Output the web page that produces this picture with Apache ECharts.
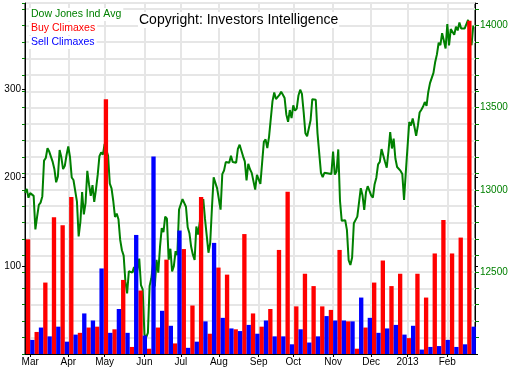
<!DOCTYPE html>
<html><head><meta charset="utf-8">
<script src="https://cdn.jsdelivr.net/npm/echarts@6/dist/echarts.min.js"></script>
<style>html,body{margin:0;padding:0;background:#fff}#c{width:516px;height:371px}</style>
</head><body><div id="c"></div>
<script>
// ---- data ----
const dowDates = [
'2012-02-27','2012-02-28','2012-02-29',
'2012-03-01','2012-03-02','2012-03-05','2012-03-06','2012-03-07','2012-03-08','2012-03-09','2012-03-12','2012-03-13','2012-03-14','2012-03-15','2012-03-16','2012-03-19','2012-03-20','2012-03-21','2012-03-22','2012-03-23','2012-03-26','2012-03-27','2012-03-28','2012-03-29','2012-03-30',
'2012-04-02','2012-04-03','2012-04-04','2012-04-05','2012-04-09','2012-04-10','2012-04-11','2012-04-12','2012-04-13','2012-04-16','2012-04-17','2012-04-18','2012-04-19','2012-04-20','2012-04-23','2012-04-24','2012-04-25','2012-04-26','2012-04-27','2012-04-30',
'2012-05-01','2012-05-02','2012-05-03','2012-05-04','2012-05-07','2012-05-08','2012-05-09','2012-05-10','2012-05-11','2012-05-14','2012-05-15','2012-05-16','2012-05-17','2012-05-18','2012-05-21','2012-05-22','2012-05-23','2012-05-24','2012-05-25','2012-05-29','2012-05-30','2012-05-31',
'2012-06-01','2012-06-04','2012-06-05','2012-06-06','2012-06-07','2012-06-08','2012-06-11','2012-06-12','2012-06-13','2012-06-14','2012-06-15','2012-06-18','2012-06-19','2012-06-20','2012-06-21','2012-06-22','2012-06-25','2012-06-26','2012-06-27','2012-06-28','2012-06-29',
'2012-07-02','2012-07-03','2012-07-05','2012-07-06','2012-07-09','2012-07-10','2012-07-11','2012-07-12','2012-07-13','2012-07-16','2012-07-17','2012-07-18','2012-07-19','2012-07-20','2012-07-23','2012-07-24','2012-07-25','2012-07-26','2012-07-27','2012-07-30','2012-07-31',
'2012-08-01','2012-08-02','2012-08-03','2012-08-06','2012-08-07','2012-08-08','2012-08-09','2012-08-10','2012-08-13','2012-08-14','2012-08-15','2012-08-16','2012-08-17','2012-08-20','2012-08-21','2012-08-22','2012-08-23','2012-08-24','2012-08-27','2012-08-28','2012-08-29','2012-08-30','2012-08-31',
'2012-09-04','2012-09-05','2012-09-06','2012-09-07','2012-09-10','2012-09-11','2012-09-12','2012-09-13','2012-09-14','2012-09-17','2012-09-18','2012-09-19','2012-09-20','2012-09-21','2012-09-24','2012-09-25','2012-09-26','2012-09-27','2012-09-28',
'2012-10-01','2012-10-02','2012-10-03','2012-10-04','2012-10-05','2012-10-08','2012-10-09','2012-10-10','2012-10-11','2012-10-12','2012-10-15','2012-10-16','2012-10-17','2012-10-18','2012-10-19','2012-10-22','2012-10-23','2012-10-24','2012-10-25','2012-10-26','2012-10-31',
'2012-11-01','2012-11-02','2012-11-05','2012-11-06','2012-11-07','2012-11-08','2012-11-09','2012-11-12','2012-11-13','2012-11-14','2012-11-15','2012-11-16','2012-11-19','2012-11-20','2012-11-21','2012-11-23','2012-11-26','2012-11-27','2012-11-28','2012-11-29','2012-11-30',
'2012-12-03','2012-12-04','2012-12-05','2012-12-06','2012-12-07','2012-12-10','2012-12-11','2012-12-12','2012-12-13','2012-12-14','2012-12-17','2012-12-18','2012-12-19','2012-12-20','2012-12-21','2012-12-24','2012-12-26','2012-12-27','2012-12-28','2012-12-31',
'2013-01-02','2013-01-03','2013-01-04','2013-01-07','2013-01-08','2013-01-09','2013-01-10','2013-01-11','2013-01-14','2013-01-15','2013-01-16','2013-01-17','2013-01-18','2013-01-22','2013-01-23','2013-01-24','2013-01-25','2013-01-28','2013-01-29','2013-01-30','2013-01-31',
'2013-02-01','2013-02-04','2013-02-05','2013-02-06','2013-02-07','2013-02-08','2013-02-11','2013-02-12','2013-02-13','2013-02-14','2013-02-15','2013-02-19','2013-02-20','2013-02-21','2013-02-22'
];
const dowClose = [
12981,13005,12952,
12980,12978,12963,12759,12837,12908,12922,12960,13178,13194,13253,13233,13239,13170,13125,13046,13081,13242,13198,13126,13146,13212,
13264,13200,13075,13060,12930,12716,12805,12987,12850,12921,13116,13033,12964,13029,12927,13002,13091,13205,13228,13214,
13279,13269,13207,13038,13009,12932,12835,12855,12821,12695,12632,12599,12442,12369,12504,12503,12496,12530,12455,12581,12420,12393,
12119,12101,12128,12415,12461,12554,12411,12574,12496,12652,12767,12742,12837,12824,12574,12641,12503,12535,12627,12602,12880,
12871,12943,12897,12772,12736,12653,12605,12573,12777,12727,12806,12909,12943,12823,12721,12617,12676,12888,13076,13073,13009,
13008,12879,13096,13118,13169,13176,13165,13208,13169,13172,13165,13250,13275,13272,13204,13173,13057,13158,13125,13103,13107,13001,13091,
13036,13047,13292,13307,13254,13323,13333,13540,13593,13553,13565,13578,13597,13579,13559,13458,13414,13486,13437,
13515,13482,13495,13575,13610,13584,13474,13345,13326,13329,13424,13552,13557,13549,13344,13346,13103,13077,13104,13107,13096,
13233,13093,13112,13246,12933,12811,12815,12815,12756,12571,12542,12588,12796,12789,12837,13010,12967,12878,12985,13022,13026,
12966,12952,13034,13074,13155,13170,13248,13245,13171,13135,13235,13351,13252,13312,13191,13139,13115,13096,12938,13104,
13413,13391,13435,13384,13329,13391,13471,13488,13507,13535,13511,13596,13650,13712,13779,13825,13896,13882,13954,13910,13861,
14010,13880,13979,13987,13944,13993,13971,14019,13983,13973,13982,14036,13928,13881,14001
];
const weekDates = [
'2012-03-01','2012-03-08','2012-03-15','2012-03-22','2012-03-29','2012-04-05','2012-04-12','2012-04-19','2012-04-26',
'2012-05-03','2012-05-10','2012-05-17','2012-05-24','2012-05-31','2012-06-07','2012-06-14','2012-06-21','2012-06-28',
'2012-07-05','2012-07-12','2012-07-19','2012-07-26','2012-08-02','2012-08-09','2012-08-16','2012-08-23','2012-08-30',
'2012-09-06','2012-09-13','2012-09-20','2012-09-27','2012-10-04','2012-10-11','2012-10-18','2012-10-25',
'2012-11-01','2012-11-08','2012-11-15','2012-11-22','2012-11-29','2012-12-06','2012-12-13','2012-12-20','2012-12-27',
'2013-01-03','2013-01-10','2013-01-17','2013-01-24','2013-01-31','2013-02-07','2013-02-14','2013-02-21'
];
const buyClimaxes = [130,25,81,155,146,178,24,30,31,289,28,84,8,72,6,30,107,12,119,55,178,23,98,90,28,136,46,
31,51,118,184,54,91,77,54,50,118,37,6,30,81,106,77,91,18,91,64,114,152,114,132,378];
const sellClimaxes = [16,30,20,31,14,22,46,38,97,24,51,24,135,21,224,49,32,140,7,14,37,126,41,29,26,33,23,
38,20,20,11,28,13,20,43,38,38,37,64,41,24,29,33,22,32,5,8,9,16,8,11,31];
const monthTickDates = ['2012-03-01','2012-04-02','2012-05-01','2012-06-01','2012-07-02','2012-08-01','2012-09-03','2012-10-01','2012-11-01','2012-12-03','2013-01-01','2013-02-01'];
const monthTickLabels = ['Mar','Apr','May','Jun','Jul','Aug','Sep','Oct','Nov','Dec','2013','Feb'];
const axisStartDate = '2012-02-27', axisEndDate = '2013-02-25';
const titleText = 'Copyright: Investors Intelligence';
const legendItems = ['Dow Jones Ind Avg','Buy Climaxes','Sell Climaxes'];

// business-day (weekday) index: weekends skipped, like the reference's time scale
function bd(s){
  const p = s.split('-').map(Number);
  const D = Math.round((Date.UTC(p[0],p[1]-1,p[2]) - Date.UTC(2012,1,27)) / 864e5);
  return Math.floor(D/7)*5 + Math.min(D%7,5);
}

const FONT = '"Liberation Sans", Arial, sans-serif';
const GREEN = '#008000', GRID = '#e6e6e6';
const monthTicks = monthTickDates.map(bd);
const monthMap = {};
monthTicks.forEach((v,i) => monthMap[v] = monthTickLabels[i]);

const chart = echarts.init(document.getElementById('c'), null, {renderer:'canvas'});
chart.setOption({
  animation:false,
  backgroundColor:'#fff',
  grid:{left:25, right:41, top:3, bottom:17, show:true, borderColor:'#000', borderWidth:1, backgroundColor:'#fff'},
  xAxis:{
    type:'value', min:bd(axisStartDate), max:bd(axisEndDate),
    axisLine:{show:true, onZero:false, lineStyle:{color:'#000', width:1}},
    axisTick:{show:true, customValues:monthTicks, length:3, lineStyle:{color:'#000'}},
    axisLabel:{customValues:monthTicks, formatter:v => monthMap[v] || '', color:'#000', fontSize:10, fontFamily:FONT, margin:3},
    splitLine:{show:true, lineStyle:{color:GRID, width:2}}
  },
  yAxis:[
    {type:'value', position:'left', min:0, max:398, interval:100,
     axisLine:{show:true, lineStyle:{color:'#000'}}, axisTick:{show:true, length:3, lineStyle:{color:'#000'}},
     axisLabel:{color:'#000', fontSize:10, fontFamily:FONT, margin:4, showMinLabel:false, showMaxLabel:false},
     splitLine:{show:false}},
    {type:'value', position:'right', min:12000, max:14138, interval:100,
     axisLine:{show:true, lineStyle:{color:'#000'}}, axisTick:{show:true, length:4, lineStyle:{color:GREEN}},
     axisLabel:{color:GREEN, fontSize:10, fontFamily:FONT, margin:5, showMinLabel:false, showMaxLabel:false,
       formatter:v => (v % 500 === 0 ? String(v) : '')},
     splitLine:{show:true, lineStyle:{color:GRID, width:2}}},
    {type:'value', position:'left', min:12000, max:14138, interval:100,
     axisLine:{show:false}, axisTick:{show:true, length:3, lineStyle:{color:GREEN}}, axisLabel:{show:false}, splitLine:{show:false}},
    {type:'value', position:'right', min:0, max:398, interval:100,
     axisLine:{show:false}, axisTick:{show:true, length:3, lineStyle:{color:'#000'}}, axisLabel:{show:false}, splitLine:{show:false}}
  ],
  series:[
    {type:'line', name:legendItems[0], yAxisIndex:1, symbol:'none', z:2,
     lineStyle:{color:GREEN, width:2}, data:dowDates.map((d,i) => [bd(d), dowClose[i]])},
    {type:'bar', name:legendItems[1], yAxisIndex:0, z:3, barGap:'0%', barCategoryGap:'0%',
     itemStyle:{color:'#ff0000'}, data:weekDates.map((d,i) => [bd(d), buyClimaxes[i]])},
    {type:'bar', name:legendItems[2], yAxisIndex:0, z:3, barGap:'0%', barCategoryGap:'0%',
     itemStyle:{color:'#0000ff'}, data:weekDates.map((d,i) => [bd(d), sellClimaxes[i]])}
  ],
  graphic:[
    {type:'text', x:138, y:20, z:100, style:{text:titleText, fill:'#000', font:'14px ' + FONT, verticalAlign:'middle', backgroundColor:'#fff', padding:[1,1]}},
    {type:'text', x:29, y:14.5, z:100, style:{text:legendItems[0], fill:GREEN, font:'10.5px ' + FONT, verticalAlign:'middle', backgroundColor:'#fff', padding:[1,2]}},
    {type:'text', x:29, y:28.5, z:100, style:{text:legendItems[1], fill:'#ff0000', font:'10.5px ' + FONT, verticalAlign:'middle', backgroundColor:'#fff', padding:[1,2]}},
    {type:'text', x:29, y:42.5, z:100, style:{text:legendItems[2], fill:'#0000ff', font:'10.5px ' + FONT, verticalAlign:'middle', backgroundColor:'#fff', padding:[1,2]}}
  ]
});
</script></body></html>
